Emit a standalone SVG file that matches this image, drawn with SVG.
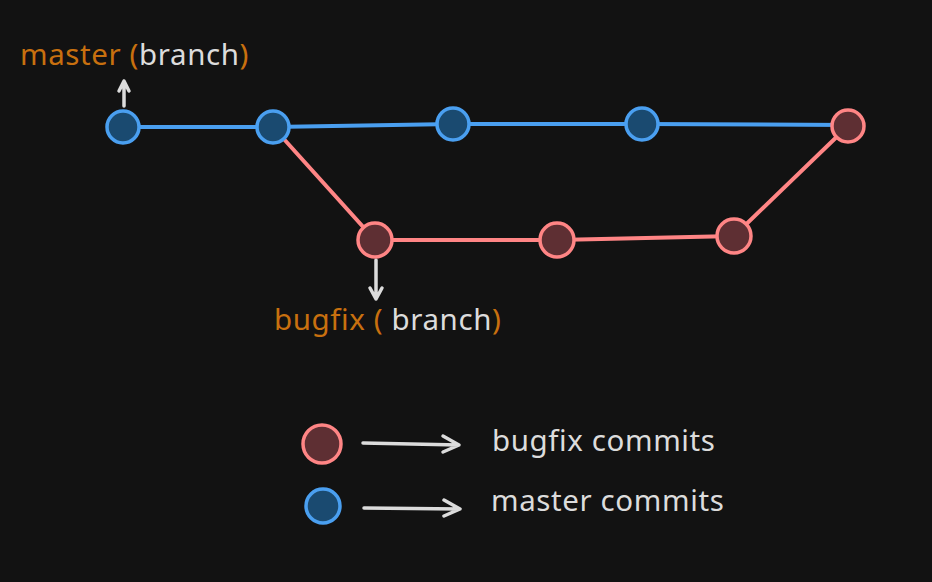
<svg xmlns="http://www.w3.org/2000/svg" width="932" height="582" viewBox="0 0 932 582">
<defs>
<style>
.bl{fill:#1a4a70;stroke:#4a9ff0;stroke-width:3.5}
.rd{fill:#5e2f33;stroke:#ff8585;stroke-width:3.5}
.t{font-family:"Noto Sans","Open Sans",sans-serif;font-size:29.5px;letter-spacing:0.6px;fill:#dcdcdc}
.o{fill:#c8700f}
.ar{stroke:#dcdcdc;stroke-width:3.5;fill:none;stroke-linecap:round;stroke-linejoin:round}
</style>
</defs>
<rect width="932" height="582" fill="#121212"/>
<g id="connectors">
<path d="M123 127 L273 127 L453 124 L642 124 L848 125" stroke="#4a9ff0" stroke-width="4" fill="none"/>
<path d="M273 127 L375 240 L557 240 L734 236 L848 126" stroke="#ff8585" stroke-width="4" fill="none"/>
<path class="ar" d="M124 106 L124 81 M119 91 L124 81 L129 91"/>
<path class="ar" d="M376 260 L376 299 M370 288 L376 299 L382 288"/>
<path class="ar" d="M363 443 L459 445 M443 436 L459 445 L443 452"/>
<path class="ar" d="M364 508 L460 509 M444 500 L460 509 L444 516"/>
</g>
<g id="m1"><circle class="bl" cx="123" cy="127" r="16"/></g>
<g id="m2"><circle class="bl" cx="273" cy="127" r="16"/></g>
<g id="m3"><circle class="bl" cx="453" cy="124" r="16"/></g>
<g id="m4"><circle class="bl" cx="642" cy="124" r="16"/></g>
<g id="merge"><circle class="rd" cx="848" cy="126" r="16"/></g>
<g id="b1"><circle class="rd" cx="375" cy="240" r="17"/></g>
<g id="b2"><circle class="rd" cx="557" cy="240" r="17"/></g>
<g id="b3"><circle class="rd" cx="734" cy="236" r="17"/></g>
<g id="master-label"><text class="t" x="20" y="65"><tspan class="o">master (</tspan>branch<tspan class="o">)</tspan></text></g>
<g id="bugfix-label"><text class="t" x="274" y="330"><tspan class="o">bugfix ( </tspan>branch<tspan class="o">)</tspan></text></g>
<g id="legend-red"><circle class="rd" cx="322" cy="444" r="19"/><text class="t" x="492" y="451">bugfix commits</text></g>
<g id="legend-blue"><circle class="bl" cx="323" cy="506" r="17"/><text class="t" x="491" y="511">master commits</text></g>
</svg>
